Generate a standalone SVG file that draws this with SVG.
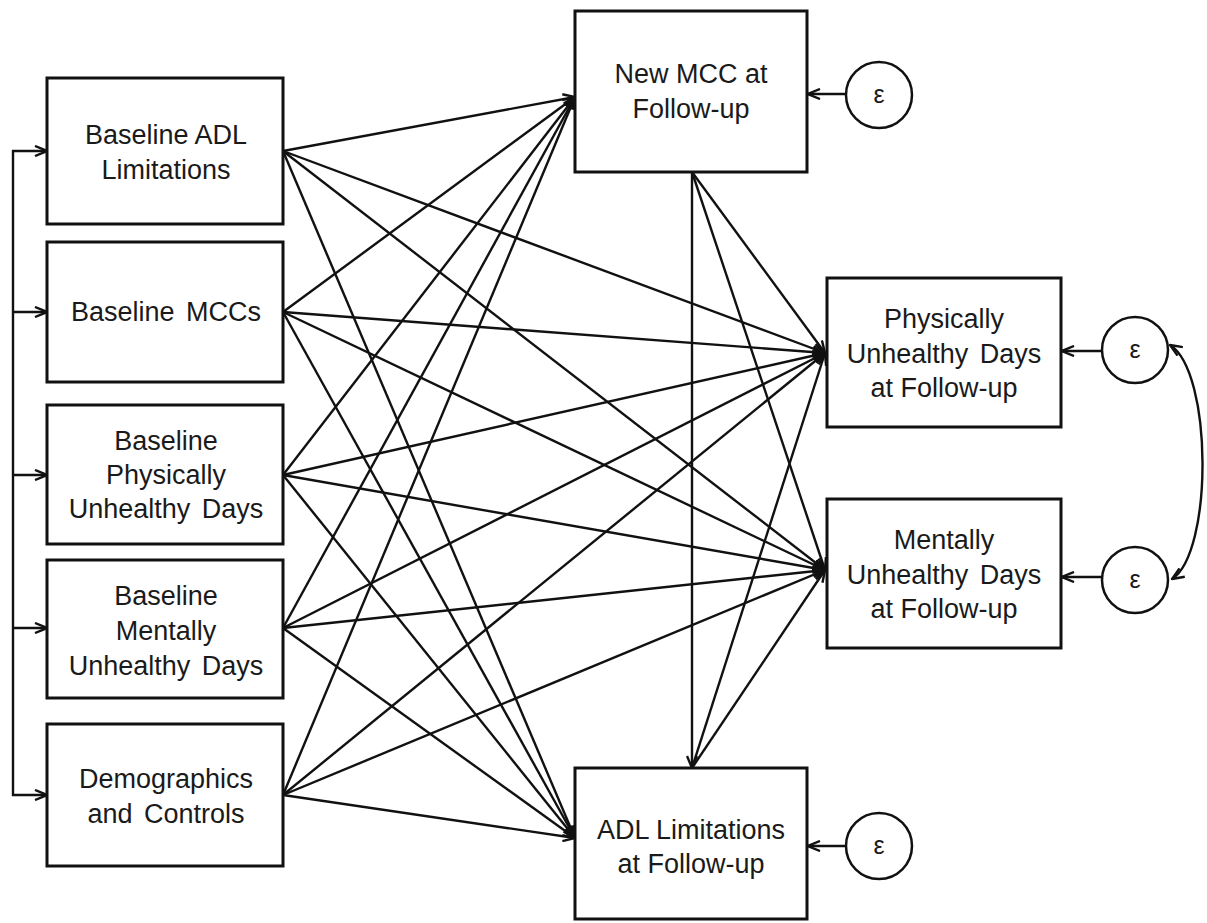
<svg xmlns="http://www.w3.org/2000/svg" width="1207" height="923" viewBox="0 0 1207 923">
<style>
.box{fill:#fff;stroke:#111;stroke-width:3}
.t{font-family:"Liberation Sans",Arial,sans-serif;font-size:27px;fill:#1a1a1a;text-anchor:middle}
.e{font-family:"Liberation Sans",Arial,sans-serif;font-size:25px;fill:#1a1a1a;text-anchor:middle}
.c line,.c path{stroke:#111;stroke-width:2.4;fill:none;marker-end:url(#ah)}
.c path.plain{marker-end:none}
.circ{fill:#fff;stroke:#111;stroke-width:2.5}
</style>
<defs>
<marker id="ah" viewBox="0 0 14 12" refX="13" refY="6" markerWidth="14" markerHeight="12" markerUnits="userSpaceOnUse" orient="auto-start-reverse">
<path d="M1,1 L13,6 L1,11" fill="none" stroke="#111" stroke-width="2.4"/>
</marker>
</defs>
<rect width="1207" height="923" fill="#fff"/>
<g id="connectors" class="c">
<path class="plain" d="M13,150 V796"/>
<line x1="12" y1="151" x2="47" y2="151"/>
<line x1="13" y1="312" x2="47" y2="312"/>
<line x1="13" y1="475" x2="47" y2="475"/>
<line x1="13" y1="628" x2="47" y2="628"/>
<line x1="12" y1="795" x2="47" y2="795"/>
<!-- box1 -->
<line x1="283" y1="151" x2="575" y2="97"/>
<line x1="283" y1="151" x2="825" y2="353"/>
<line x1="283" y1="151" x2="825" y2="570"/>
<line x1="283" y1="151" x2="575" y2="838"/>
<!-- box2 -->
<line x1="283" y1="312" x2="575" y2="97"/>
<line x1="283" y1="312" x2="825" y2="353"/>
<line x1="283" y1="312" x2="825" y2="570"/>
<line x1="283" y1="312" x2="575" y2="838"/>
<!-- box3 -->
<line x1="283" y1="475" x2="575" y2="97"/>
<line x1="283" y1="475" x2="825" y2="353"/>
<line x1="283" y1="475" x2="825" y2="570"/>
<line x1="283" y1="475" x2="575" y2="838"/>
<!-- box4 -->
<line x1="283" y1="628" x2="575" y2="97"/>
<line x1="283" y1="628" x2="825" y2="353"/>
<line x1="283" y1="628" x2="825" y2="570"/>
<line x1="283" y1="628" x2="575" y2="838"/>
<!-- box5 -->
<line x1="283" y1="795" x2="575" y2="97"/>
<line x1="283" y1="795" x2="825" y2="353"/>
<line x1="283" y1="795" x2="825" y2="570"/>
<line x1="283" y1="795" x2="575" y2="838"/>
<!-- mediators -->
<line x1="692" y1="172" x2="692" y2="768"/>
<line x1="692" y1="172" x2="825" y2="353"/>
<line x1="692" y1="172" x2="825" y2="570"/>
<line x1="692" y1="768" x2="825" y2="353"/>
<line x1="692" y1="768" x2="825" y2="570"/>
<!-- errors -->
<line x1="846" y1="94" x2="808" y2="94"/>
<line x1="1102" y1="351" x2="1062" y2="351"/>
<line x1="1102" y1="577" x2="1062" y2="577"/>
<line x1="846" y1="846" x2="808" y2="846"/>
<path d="M1170,345 C1213,372 1213,553 1172,579" style="marker-start:url(#ah)"/>
</g>
<g id="n_base_adl"><rect class="box" x="47" y="78" width="236" height="146"/>
<text class="t" x="166" y="144">Baseline ADL</text><text class="t" x="166" y="179">Limitations</text></g>
<g id="n_base_mcc"><rect class="box" x="47" y="242" width="236" height="140"/>
<text class="t" x="166" y="321" word-spacing="4">Baseline MCCs</text></g>
<g id="n_base_phys"><rect class="box" x="47" y="405" width="236" height="139"/>
<text class="t" x="166" y="450">Baseline</text><text class="t" x="166" y="484">Physically</text><text class="t" x="166" y="518" word-spacing="4">Unhealthy Days</text></g>
<g id="n_base_ment"><rect class="box" x="47" y="560" width="236" height="138"/>
<text class="t" x="166" y="605">Baseline</text><text class="t" x="166" y="640">Mentally</text><text class="t" x="166" y="675" word-spacing="4">Unhealthy Days</text></g>
<g id="n_demo"><rect class="box" x="47" y="724" width="236" height="142"/>
<text class="t" x="166" y="788">Demographics</text><text class="t" x="166" y="823" word-spacing="4">and Controls</text></g>
<g id="n_newmcc"><rect class="box" x="575" y="11" width="232" height="161"/>
<text class="t" x="691" y="83">New MCC at</text><text class="t" x="691" y="118">Follow-up</text></g>
<g id="n_phys"><rect class="box" x="827" y="278" width="234" height="149"/>
<text class="t" x="944" y="328">Physically</text><text class="t" x="944" y="363" word-spacing="4">Unhealthy Days</text><text class="t" x="944" y="397">at Follow-up</text></g>
<g id="n_ment"><rect class="box" x="827" y="499" width="234" height="149"/>
<text class="t" x="944" y="549">Mentally</text><text class="t" x="944" y="584" word-spacing="4">Unhealthy Days</text><text class="t" x="944" y="618">at Follow-up</text></g>
<g id="n_adl"><rect class="box" x="575" y="768" width="232" height="151"/>
<text class="t" x="691" y="839">ADL Limitations</text><text class="t" x="691" y="873">at Follow-up</text></g>
<g id="e_newmcc"><circle class="circ" cx="879" cy="95" r="33"/><text class="e" x="879" y="103">ε</text></g>
<g id="e_phys"><circle class="circ" cx="1135" cy="350" r="33"/><text class="e" x="1135" y="358">ε</text></g>
<g id="e_ment"><circle class="circ" cx="1135" cy="580" r="33"/><text class="e" x="1135" y="588">ε</text></g>
<g id="e_adl"><circle class="circ" cx="879" cy="846" r="33"/><text class="e" x="879" y="854">ε</text></g>
</svg>
